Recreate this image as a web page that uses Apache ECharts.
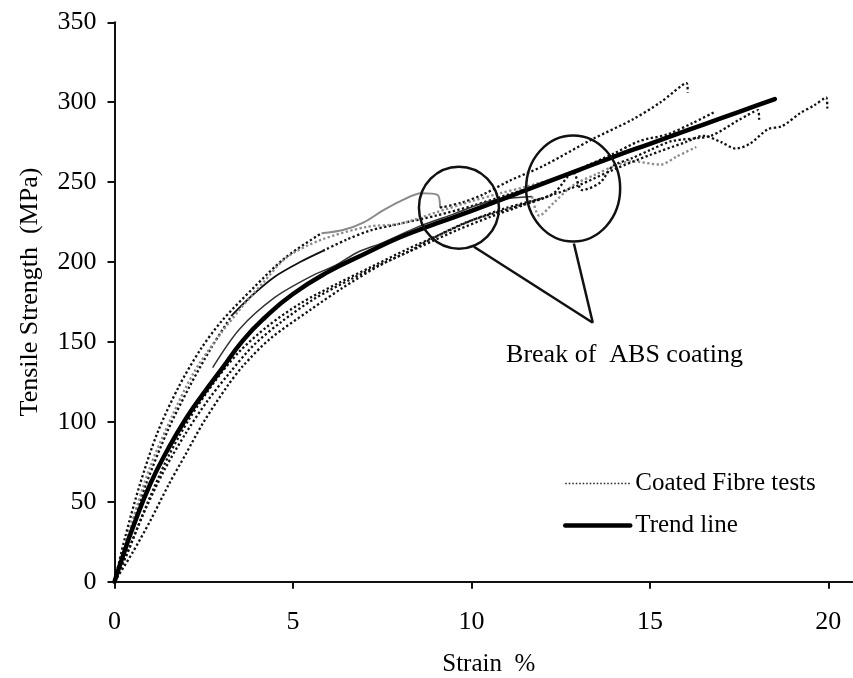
<!DOCTYPE html>
<html><head><meta charset="utf-8">
<script src="https://cdn.jsdelivr.net/npm/echarts@6/dist/echarts.min.js"></script>
<style>html,body{margin:0;padding:0;background:#fff}#c{width:853px;height:678px}</style>
</head><body><div id="c"></div>
<script>
// ---- data (strain %, tensile strength MPa) ----
const xTickValues = [0, 5, 10, 15, 20];
const yTickValues = [0, 50, 100, 150, 200, 250, 300, 350];

const trendLine = [[0,0],[0.25,17],[0.5,33],[1,61],[1.5,83],[2,102],[2.5,118],[3,133],[3.6,151],[4.2,165],[5,180],[6,194],[7,205],[8,215.5],[9,224],[10,232],[11,240.5],[12,249],[13,257.5],[14,266],[15,274],[16,282],[17,290],[18,298],[18.5,302]];

const testA1 = [[0,0],[0.3,28],[0.7,60],[1.2,93],[1.8,122],[2.4,145],[3,163],[3.9,184],[4.8,203],[5.8,218]];
const testA2 = [[5.8,218],[6.4,220],[7,225],[7.5,232],[8,238],[8.6,243],[9.05,242],[9.12,234]];
const testA3 = [[9.12,234],[9.7,237],[10.3,242],[11.08,251],[12,260],[13.4,277],[14.5,289],[15.3,300],[16.03,312],[16.06,306]];

const testB1 = [[0,0],[0.4,30],[0.9,62],[1.5,95],[2.1,122],[2.7,146],[3.3,167]];
const testB2 = [[3.3,167],[3.9,180],[4.5,191],[5.2,200],[5.84,207]];
const testB3 = [[5.84,207],[6.5,214],[7.2,220],[8,224],[9,229],[10,235],[11,242],[12,249],[13,258],[14,268],[14.7,275.6],[15.5,280],[16.2,287],[16.82,294]];

const testC = [[0,0],[0.5,38],[1,72],[1.6,103],[2.2,130],[2.8,150],[3.5,170],[4.2,188],[4.83,203],[5.8,214],[7.07,222],[8,224],[9,231],[10,238],[10.8,243],[11.5,247],[12.3,252]];

const testD1 = [[2.75,134],[3.5,158],[4.5,178],[5.5,191],[6.2,198],[6.8,206],[7.5,212],[8.5,222],[9.5,230],[10.5,238],[11.7,241]];
const testD2 = [[11.7,241],[11.9,229],[12.3,237],[12.85,248],[13.5,255],[14,260],[14.5,263],[15.3,261],[15.75,266],[16.3,272]];

const testE = [[0,0],[0.3,15],[0.8,42],[1.4,70],[2,93],[2.6,113],[3.2,130],[3.9,148],[4.7,163],[5.6,177],[6.6,189],[7.6,200],[8.6,210],[9.6,220],[10.5,228],[11.5,236],[12.3,243],[12.85,256],[13.1,245],[13.6,249.6],[13.96,260],[14.5,265],[15,270],[15.6,275.6],[16.7,279],[17.5,289],[18.03,295],[18.06,289]];

const testF = [[0,0],[0.5,18],[1,38],[1.5,60],[2,80],[2.5,100],[3.15,122],[3.6,135],[4.36,152],[5.48,170],[6.4,184],[7.44,198],[8.28,207],[8.84,214],[9.87,225],[11,233],[12,240],[13,248],[14,258],[15,267],[16,275],[16.5,279],[17,275],[17.4,271],[17.8,274],[18.3,283],[18.7,285],[19.2,293],[19.6,298],[19.94,303],[19.97,296]];

const testG = [[0,0],[0.4,20],[0.9,48],[1.5,78],[2.1,102],[2.8,125],[3.5,144],[4.3,160],[5.2,174],[6.2,186],[7.2,197],[8.2,208],[9.2,218],[10,226],[11,234],[12,240]];

// annotation anchors (data coordinates)
const breakCircleCenters = [[9.65,234],[12.85,246]];
const pointerStarts = [[10.07,209.6],[12.87,211.6]];
const pointerApex = [13.4,162];
const breakLabelAnchor = [10.97,142];
const breakLabel = 'Break of  ABS coating';

const FONT = 'Liberation Serif';
const TEST = 'Coated Fibre tests';
const TREND = 'Trend line';
const XMAX = 20.69;

function testSeries(data, color, type, width) {
  return {name: TEST, type: 'line', data: data, symbol: 'none', smooth: 0.3,
    silent: true, z: 2, itemStyle: {color: 'rgba(0,0,0,0)'},
    lineStyle: {color: color, width: width || 2.3, type: type}};
}
const dotted = [2.3, 2.4];
const black = '#111';
const gray = '#8a8a8a';

const chart = echarts.init(document.getElementById('c'), null, {renderer: 'canvas'});
const option = {
  animation: false,
  backgroundColor: '#fff',
  grid: {left: 114.5, right: 0, top: 22.3, bottom: 96.3, containLabel: false, outerBoundsMode: 'none'},
  legend: {
    orient: 'vertical', left: 558, top: 466, itemWidth: 65, itemHeight: 12, itemGap: 17,
    itemStyle: {opacity: 0},
    textStyle: {fontFamily: FONT, fontSize: 25, color: '#000'},
    data: [{name: TEST, lineStyle: {width: 1.5, type: [1.5, 2], color: '#222'}},
           {name: TREND, lineStyle: {width: 4.5, color: '#000', type: 'solid'}}]
  },
  xAxis: [{
    type: 'value', min: 0, max: XMAX, interval: 5,
    name: 'Strain  %', nameLocation: 'middle', nameGap: 70,
    nameTextStyle: {fontFamily: FONT, fontSize: 25, color: '#000', padding: [0,0,0,10]},
    axisLine: {show: true, onZero: false, lineStyle: {color: black, width: 2}},
    axisTick: {show: true, length: 7, customValues: xTickValues, lineStyle: {color: black, width: 2}},
    axisLabel: {fontFamily: FONT, fontSize: 26, color: '#000', margin: 27, customValues: xTickValues,
      formatter: v => (xTickValues.indexOf(v) >= 0 ? String(v) : '')},
    splitLine: {show: false}
  }, {
    type: 'value', min: 0, max: XMAX, position: 'top',
    axisLine: {show: true, lineStyle: {color: black, width: 2}},
    axisTick: {show: false}, axisLabel: {show: false}, splitLine: {show: false}
  }],
  yAxis: {
    type: 'value', min: 0, max: 350, interval: 50,
    name: 'Tensile Strength  (MPa)', nameLocation: 'middle', nameGap: 71, nameRotate: 90,
    nameTextStyle: {fontFamily: FONT, fontSize: 26, color: '#000', padding: [0,0,0,20]},
    axisLine: {show: true, lineStyle: {color: black, width: 2}},
    axisTick: {show: true, length: 7, lineStyle: {color: black, width: 2}},
    axisLabel: {fontFamily: FONT, fontSize: 26, color: '#000', margin: 18,
      formatter: v => (yTickValues.indexOf(v) >= 0 ? String(v) : '')},
    splitLine: {show: false}
  },
  series: [
    testSeries(testA1, black, dotted),
    testSeries(testA2, gray, 'solid', 2),
    testSeries(testA3, black, dotted),
    testSeries(testB1, black, dotted),
    testSeries(testB2, black, 'solid', 1.8),
    testSeries(testB3, black, dotted),
    testSeries(testC, gray, dotted),
    testSeries(testD1, '#333', 'solid', 1.5),
    testSeries(testD2, gray, dotted),
    testSeries(testE, black, dotted),
    testSeries(testF, black, dotted),
    testSeries(testG, black, dotted),
    {name: TREND, type: 'line', data: trendLine, symbol: 'none', smooth: true, z: 5, silent: true,
      itemStyle: {color: 'rgba(0,0,0,0)'},
      lineStyle: {color: '#000', width: 4.5, cap: 'round'}}
  ]
};
chart.setOption(option);

const px = pt => chart.convertToPixel({xAxisIndex: 0, yAxisIndex: 0}, pt);
const radii = [[40, 41], [47, 53]];
const graphics = [];
breakCircleCenters.forEach((c, i) => {
  const p = px(c);
  graphics.push({type: 'ellipse', shape: {cx: p[0], cy: p[1], rx: radii[i][0], ry: radii[i][1]},
    style: {fill: 'none', stroke: '#111', lineWidth: 2.5}, z: 10});
});
const apex = px(pointerApex);
pointerStarts.forEach(s => {
  const p = px(s);
  graphics.push({type: 'line', shape: {x1: p[0], y1: p[1], x2: apex[0], y2: apex[1]},
    style: {stroke: '#111', lineWidth: 2.5}, z: 10});
});
const lp = px(breakLabelAnchor);
graphics.push({type: 'text', x: lp[0], y: lp[1], z: 10,
  style: {text: breakLabel, font: '26px "' + FONT + '"', fill: '#000', textAlign: 'left', textVerticalAlign: 'middle'}});
chart.setOption({graphic: graphics});
</script></body></html>
